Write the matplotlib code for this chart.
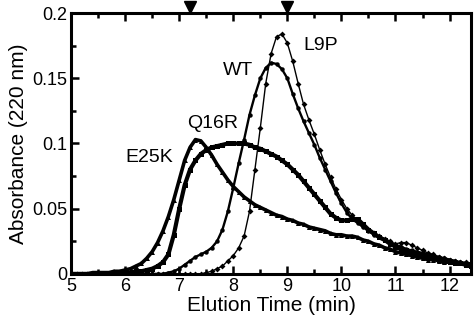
import numpy as np
import matplotlib.pyplot as plt
from matplotlib.ticker import MultipleLocator, FormatStrFormatter

# elution time grid (min), 5.0 .. 12.4 every 0.1
time = np.round(np.arange(5.0, 12.45, 0.1), 1)

e25k = [0.000, 0.000, 0.000, 0.000, 0.001, 0.001, 0.001, 0.001, 0.002, 0.002,
        0.003, 0.004, 0.006, 0.008, 0.012, 0.017, 0.024, 0.033, 0.044, 0.057,
        0.072, 0.087, 0.097, 0.103, 0.102, 0.097, 0.091, 0.084, 0.078, 0.072,
        0.067, 0.063, 0.059, 0.056, 0.053, 0.051, 0.049, 0.047, 0.045, 0.044,
        0.042, 0.041, 0.039, 0.038, 0.036, 0.035, 0.034, 0.033, 0.031, 0.030,
        0.030, 0.029, 0.029, 0.028, 0.026, 0.025, 0.023, 0.022, 0.020, 0.019,
        0.017, 0.016, 0.015, 0.014, 0.013, 0.012, 0.011, 0.011, 0.010, 0.009,
        0.009, 0.008, 0.008, 0.007, 0.007]

q16r = [0.000, 0.000, 0.000, 0.000, 0.000, 0.000, 0.000, 0.000, 0.001, 0.001,
        0.001, 0.001, 0.002, 0.002, 0.003, 0.004, 0.006, 0.009, 0.015, 0.030,
        0.050, 0.068, 0.080, 0.087, 0.092, 0.095, 0.097, 0.098, 0.099, 0.100,
        0.100, 0.100, 0.100, 0.099, 0.097, 0.096, 0.094, 0.092, 0.090, 0.087,
        0.084, 0.080, 0.076, 0.071, 0.066, 0.061, 0.056, 0.051, 0.046, 0.043,
        0.041, 0.041, 0.042, 0.042, 0.038, 0.034, 0.031, 0.028, 0.026, 0.023,
        0.021, 0.019, 0.018, 0.016, 0.015, 0.014, 0.013, 0.012, 0.011, 0.010,
        0.009, 0.008, 0.008, 0.007, 0.006]

wt = [0.000, 0.000, 0.000, 0.000, 0.000, 0.000, 0.000, 0.000, 0.000, 0.000,
      0.000, 0.000, 0.000, 0.000, 0.000, 0.000, 0.000, 0.000, 0.001, 0.002,
      0.004, 0.007, 0.010, 0.013, 0.015, 0.017, 0.020, 0.025, 0.034, 0.048,
      0.066, 0.085, 0.103, 0.122, 0.137, 0.150, 0.158, 0.162, 0.161, 0.157,
      0.150, 0.138, 0.127, 0.117, 0.108, 0.099, 0.089, 0.080, 0.071, 0.062,
      0.054, 0.047, 0.042, 0.039, 0.036, 0.033, 0.030, 0.028, 0.026, 0.024,
      0.022, 0.021, 0.019, 0.018, 0.017, 0.016, 0.015, 0.014, 0.013, 0.012,
      0.011, 0.010, 0.009, 0.008, 0.008]

l9p = [0.000, 0.000, 0.000, 0.000, 0.000, 0.000, 0.000, 0.000, 0.000, 0.000,
       0.000, 0.000, 0.000, 0.000, 0.000, 0.000, 0.000, 0.000, 0.000, 0.000,
       0.000, 0.000, 0.000, 0.000, 0.000, 0.001, 0.002, 0.004, 0.006, 0.010,
       0.014, 0.020, 0.029, 0.048, 0.080, 0.112, 0.146, 0.169, 0.182, 0.184,
       0.177, 0.163, 0.146, 0.130, 0.118, 0.107, 0.095, 0.084, 0.074, 0.065,
       0.057, 0.050, 0.045, 0.041, 0.037, 0.034, 0.031, 0.029, 0.027, 0.025,
       0.023, 0.024, 0.024, 0.022, 0.020, 0.018, 0.016, 0.015, 0.013, 0.012,
       0.011, 0.010, 0.009, 0.009, 0.008]

labels = ['E25K', 'Q16R', 'WT', 'L9P']
label_pos = [(6.0, 0.089), (7.15, 0.115), (7.8, 0.156), (9.3, 0.175)]
arrow_times = [7.2, 9.0]

plt.rcParams['font.family'] = ['Liberation Sans', 'DejaVu Sans']

fig = plt.figure(figsize=(4.74, 3.28), dpi=100)
ax = fig.add_axes([0.150, 0.165, 0.844, 0.795])

ax.plot(time, e25k, color='black', lw=2.6, marker='^', ms=3.6, mew=0)
ax.plot(time, q16r, color='black', lw=3.0, marker='s', ms=3.6, mew=0)
ax.plot(time, wt, color='black', lw=1.7, marker='o', ms=3.2, mew=0)
ax.plot(time, l9p, color='black', lw=1.0, marker='D', ms=3.0, mew=0)

for name, (x, y) in zip(labels, label_pos):
    ax.text(x, y, name, fontsize=14, ha='left', va='center')

# elution markers above the frame
ax.plot(arrow_times, [0.2045] * len(arrow_times), 'kv', ms=9, clip_on=False)

ax.set_xlim(5, 12.4)
ax.set_ylim(0, 0.2)
ax.xaxis.set_major_locator(MultipleLocator(1))
ax.xaxis.set_minor_locator(MultipleLocator(0.5))
ax.yaxis.set_major_locator(MultipleLocator(0.05))
ax.yaxis.set_minor_locator(MultipleLocator(0.025))
ax.yaxis.set_major_formatter(FormatStrFormatter('%g'))

ax.tick_params(which='both', direction='in', top=True, right=False, width=1.8,
               labelsize=13, pad=3)
ax.tick_params(which='major', length=5.5)
ax.tick_params(which='minor', length=3.5)
for s in ax.spines.values():
    s.set_linewidth(2.2)

ax.set_xlabel('Elution Time (min)', fontsize=15, labelpad=1)
ax.set_ylabel('Absorbance (220 nm)', fontsize=15, labelpad=3)

fig.savefig('out.png', dpi=100)
